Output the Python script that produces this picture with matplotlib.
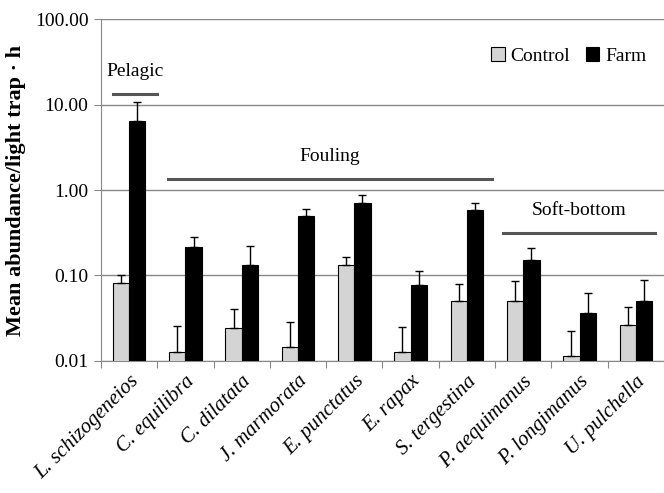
import numpy as np
import matplotlib.pyplot as plt

species = ['L. schizogeneios', 'C. equilibra', 'C. dilatata', 'J. marmorata',
           'E. punctatus', 'E. rapax', 'S. tergestina', 'P. aequimanus',
           'P. longimanus', 'U. pulchella']
control = [0.081, 0.0128, 0.024, 0.0147, 0.131, 0.0126, 0.050, 0.050, 0.0115, 0.0262]
control_top = [0.100, 0.0257, 0.040, 0.0286, 0.163, 0.025, 0.0786, 0.086, 0.0225, 0.0428]
farm = [6.5, 0.213, 0.131, 0.499, 0.71, 0.0765, 0.585, 0.153, 0.0368, 0.0503]
farm_top = [10.6, 0.279, 0.223, 0.607, 0.867, 0.112, 0.70, 0.208, 0.063, 0.089]

groups = ['Pelagic', 'Fouling', 'Soft-bottom']
group_x = [(-0.29, 0.49), (0.69, 6.44), (6.64, 9.34)]
group_y = [13.5, 1.34, 0.316]

plt.rcParams['font.family'] = ['Liberation Serif', 'DejaVu Serif']

fig = plt.figure(figsize=(6.64, 4.93), dpi=100)
ax = fig.add_axes([0.152, 0.268, 0.848, 0.693])

x = np.arange(len(species))
w = 0.29
ctrl_err = np.array(control_top) - np.array(control)
farm_err = np.array(farm_top) - np.array(farm)
ax.bar(x - w/2, control, w, color='#d4d4d4', edgecolor='black', linewidth=0.8,
       yerr=[np.zeros(len(x)), ctrl_err], error_kw=dict(ecolor='black', elinewidth=1, capsize=3, capthick=1),
       label='Control', zorder=3)
ax.bar(x + w/2, farm, w, color='black', edgecolor='black', linewidth=0.8,
       yerr=[np.zeros(len(x)), farm_err], error_kw=dict(ecolor='black', elinewidth=1, capsize=3, capthick=1),
       label='Farm', zorder=3)

ax.set_yscale('log')
ax.set_ylim(0.01, 100)
ax.set_xlim(-0.5, 9.5)
ax.set_yticks([0.01, 0.1, 1, 10, 100])
ax.set_yticklabels(['0.01', '0.10', '1.00', '10.00', '100.00'], fontsize=14)
ax.minorticks_off()
ax.yaxis.grid(True, color='#888888', linewidth=1)
ax.set_axisbelow(True)

ax.set_xticks(np.arange(-0.5, 10, 1))
ax.set_xticklabels([])
ax.set_xticks(x, minor=True)
ax.set_xticklabels(species, minor=True, rotation=45, ha='right', rotation_mode='anchor',
                   fontsize=15, style='italic')
ax.tick_params(axis='x', which='minor', length=0, pad=8)
ax.tick_params(axis='x', which='major', length=5, color='#888888', direction='out')
ax.tick_params(axis='y', length=5, color='#888888', pad=4)

for s in ['top', 'right']:
    ax.spines[s].set_visible(False)
ax.spines['left'].set_color('#888888')
ax.spines['bottom'].set_color('#888888')

ax.set_ylabel('Mean abundance/light trap · h', fontsize=16, fontweight='bold', labelpad=6)

for name, (x0, x1), yv in zip(groups, group_x, group_y):
    ax.plot([x0, x1], [yv, yv], color='#555555', linewidth=2.2, zorder=4)
    ax.text((x0 + x1) / 2, yv * 1.45, name, ha='center', va='bottom', fontsize=14)

ax.legend(loc='upper right', frameon=False, fontsize=14, ncol=2, handlelength=0.7,
          handleheight=0.7, columnspacing=0.8, handletextpad=0.3, bbox_to_anchor=(1.0, 0.97))

fig.savefig('out.png', dpi=100)
